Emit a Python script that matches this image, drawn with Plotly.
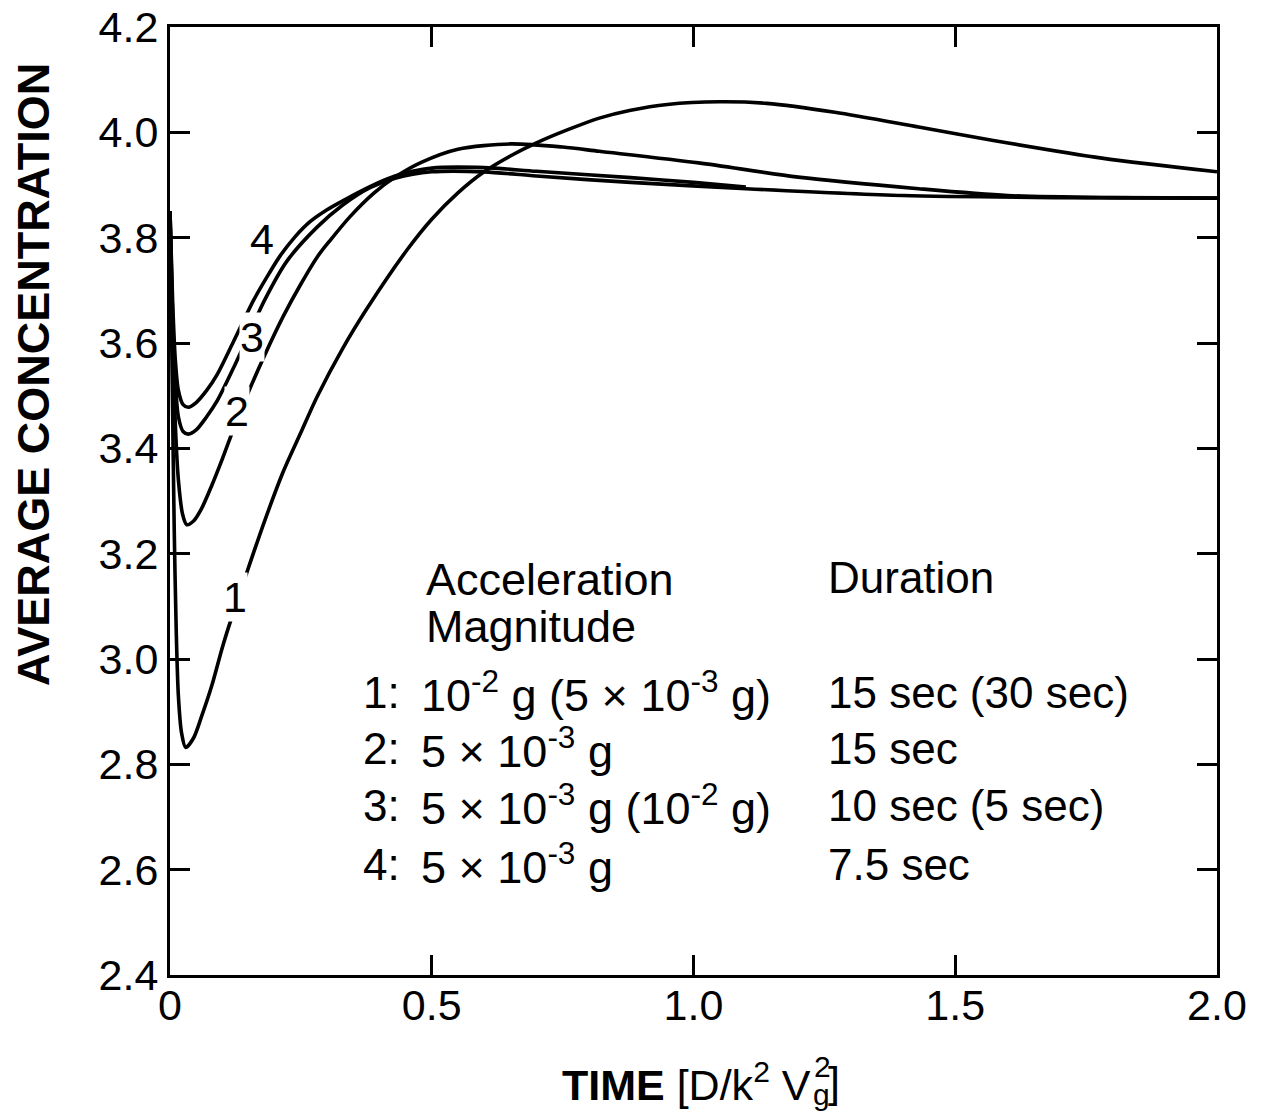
import plotly.graph_objects as go

# ---------------- data ----------------
t1 = [0.000, 0.004, 0.008, 0.012, 0.016, 0.022, 0.030, 0.045, 0.060, 0.080, 0.100, 0.115, 0.147,
      0.180, 0.216, 0.250, 0.281, 0.330, 0.376, 0.453, 0.500, 0.550, 0.600, 0.650, 0.700, 0.760,
      0.820, 0.880, 0.950, 1.050, 1.140, 1.270, 1.430, 1.570, 1.780, 2.000]
c1 = [3.850, 3.550, 3.250, 3.050, 2.930, 2.860, 2.832, 2.850, 2.890, 2.950, 3.022, 3.070, 3.165,
      3.260, 3.355, 3.430, 3.498, 3.590, 3.665, 3.777, 3.835, 3.885, 3.925, 3.955, 3.980, 4.005,
      4.027, 4.042, 4.053, 4.058, 4.055, 4.038, 4.010, 3.985, 3.951, 3.925]

t2 = [0.000, 0.005, 0.010, 0.016, 0.024, 0.032, 0.045, 0.060, 0.080, 0.100, 0.115, 0.147, 0.180,
      0.216, 0.250, 0.281, 0.306, 0.344, 0.390, 0.430, 0.480, 0.550, 0.650, 0.750, 0.820, 1.010,
      1.200, 1.430, 1.600, 1.800, 2.000]
c2 = [3.850, 3.620, 3.450, 3.340, 3.275, 3.255, 3.262, 3.285, 3.330, 3.380, 3.420, 3.500, 3.575,
      3.650, 3.712, 3.763, 3.795, 3.840, 3.885, 3.915, 3.943, 3.968, 3.978, 3.972, 3.964, 3.942,
      3.915, 3.893, 3.880, 3.876, 3.875]

t3 = [0.000, 0.005, 0.010, 0.016, 0.025, 0.035, 0.050, 0.070, 0.090, 0.120, 0.150, 0.180, 0.223,
      0.281, 0.330, 0.382, 0.430, 0.500, 0.600, 0.700, 0.880, 1.100, 1.400, 1.700, 2.000]
c3 = [3.850, 3.650, 3.530, 3.460, 3.432, 3.427, 3.435, 3.460, 3.490, 3.550, 3.615, 3.680, 3.755,
      3.820, 3.862, 3.895, 3.913, 3.925, 3.925, 3.917, 3.905, 3.893, 3.880, 3.876, 3.875]

t4 = [0.000, 0.005, 0.010, 0.016, 0.025, 0.035, 0.050, 0.070, 0.090, 0.120, 0.159, 0.185, 0.210,
      0.240, 0.267, 0.300, 0.330, 0.382, 0.430, 0.500, 0.600, 0.700, 0.880, 1.000, 1.100]
c4 = [3.850, 3.680, 3.570, 3.510, 3.483, 3.478, 3.487, 3.510, 3.540, 3.600, 3.680, 3.725, 3.765,
      3.803, 3.830, 3.853, 3.870, 3.897, 3.917, 3.932, 3.933, 3.926, 3.914, 3.905, 3.896]

x_ticks = [0, 0.5, 1.0, 1.5, 2.0]
x_tick_text = ["0", "0.5", "1.0", "1.5", "2.0"]
y_ticks = [2.4, 2.6, 2.8, 3.0, 3.2, 3.4, 3.6, 3.8, 4.0, 4.2]

curve_labels = ["1", "2", "3", "4"]
label_t = [0.124, 0.128, 0.156, 0.176]
label_c = [3.118, 3.470, 3.612, 3.798]
label_gap = [True, True, True, False]

legend_nums = ["1:", "2:", "3:", "4:"]
legend_mag = ["10<sup>-2</sup> g (5 × 10<sup>-3</sup> g)",
              "5 × 10<sup>-3</sup> g",
              "5 × 10<sup>-3</sup> g (10<sup>-2</sup> g)",
              "5 × 10<sup>-3</sup> g"]
legend_dur = ["15 sec (30 sec)", "15 sec", "10 sec (5 sec)", "7.5 sec"]

# ---------------- figure ----------------
W, H = 1266, 1116
L, R, T, B = 170, 49, 27, 141
FONT = "Liberation Sans, Arial, Helvetica, sans-serif"


def px(x):
    return (x - L) / (W - L - R)


def py(y):
    return (H - B - y) / (H - T - B)


fig = go.Figure()
for t, c in [(t1, c1), (t2, c2), (t3, c3), (t4, c4)]:
    fig.add_trace(go.Scatter(x=t, y=c, mode="lines",
                             line=dict(color="black", width=3.6, shape="spline", smoothing=0.8),
                             showlegend=False, hoverinfo="skip"))

ann = []
for lab, lt, lc, gap in zip(curve_labels, label_t, label_c, label_gap):
    ann.append(dict(x=lt, y=lc, xref="x", yref="y", text=lab, showarrow=False,
                    font=dict(size=43, color="black", family=FONT),
                    bgcolor="white" if gap else "rgba(0,0,0,0)", borderpad=0))

LEG = 44
ann.append(dict(x=px(424), y=py(580), xref="paper", yref="paper", text="Acceleration", showarrow=False,
                xanchor="left", yanchor="middle", font=dict(size=45, color="black", family=FONT)))
ann.append(dict(x=px(424), y=py(626), xref="paper", yref="paper", text="Magnitude", showarrow=False,
                xanchor="left", yanchor="middle", font=dict(size=45, color="black", family=FONT)))
ann.append(dict(x=px(826), y=py(577), xref="paper", yref="paper", text="Duration", showarrow=False,
                xanchor="left", yanchor="middle", font=dict(size=LEG, color="black", family=FONT)))
row_y = [692, 748, 805, 864]
for n, m, d, yy in zip(legend_nums, legend_mag, legend_dur, row_y):
    ann.append(dict(x=px(361), y=py(yy), xref="paper", yref="paper", text=n, showarrow=False,
                    xanchor="left", yanchor="middle", font=dict(size=LEG, color="black", family=FONT)))
    ann.append(dict(x=px(419), y=py(yy), xref="paper", yref="paper", text=m, showarrow=False,
                    xanchor="left", yanchor="middle", font=dict(size=45, color="black", family=FONT)))
    ann.append(dict(x=px(826), y=py(yy), xref="paper", yref="paper", text=d, showarrow=False,
                    xanchor="left", yanchor="middle", font=dict(size=LEG, color="black", family=FONT)))

# y-axis title
ann.append(dict(x=px(34), y=py(375), xref="paper", yref="paper", text="<b>AVERAGE CONCENTRATION</b>",
                showarrow=False, textangle=-90, xanchor="center", yanchor="middle",
                font=dict(size=45, color="black", family=FONT)))
# x-axis title composed (stacked super/subscript on V)
ann.append(dict(x=px(813), y=py(1082), xref="paper", yref="paper",
                text="<b>TIME</b> [D/k<sup>2</sup> V", showarrow=False, xanchor="right", yanchor="middle",
                font=dict(size=43, color="black", family=FONT)))
ann.append(dict(x=px(812), y=py(1066), xref="paper", yref="paper", text="2", showarrow=False,
                xanchor="left", yanchor="middle", font=dict(size=30, color="black", family=FONT)))
ann.append(dict(x=px(811), y=py(1094), xref="paper", yref="paper", text="g", showarrow=False,
                xanchor="left", yanchor="middle", font=dict(size=30, color="black", family=FONT)))
ann.append(dict(x=px(826), y=py(1082), xref="paper", yref="paper", text="]", showarrow=False,
                xanchor="left", yanchor="middle", font=dict(size=43, color="black", family=FONT)))

axis_common = dict(showline=True, linecolor="black", linewidth=3, mirror="ticks", ticks="inside",
                   ticklen=20, tickwidth=3, tickcolor="black", showgrid=False, zeroline=False,
                   automargin=False, tickfont=dict(size=43, color="black", family=FONT))

fig.update_layout(
    width=W, height=H,
    margin=dict(l=L, r=R, t=T, b=B),
    paper_bgcolor="white", plot_bgcolor="white",
    xaxis=dict(range=[0, 2.0], tickvals=x_ticks, ticktext=x_tick_text, ticklabelstandoff=-10,
               **axis_common),
    yaxis=dict(range=[2.4, 4.2], tickvals=y_ticks, tickformat=".1f", **axis_common),
    annotations=ann,
    showlegend=False,
)

fig.write_html("out.html")
